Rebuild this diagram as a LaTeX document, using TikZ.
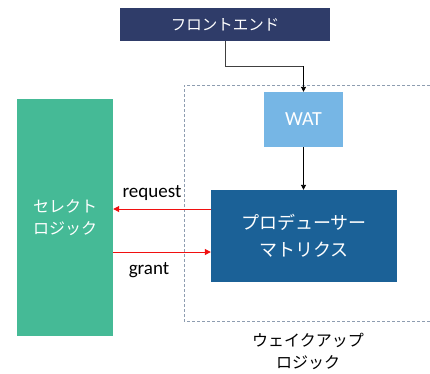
\documentclass[tikz,border=0pt]{standalone}
\usepackage{fontspec}
\setmainfont{Carlito}
\newfontfamily\jp{Noto Sans CJK JP}
\usetikzlibrary{arrows.meta}
\definecolor{navy}{HTML}{2F3C69}
\definecolor{watblue}{HTML}{76B6E5}
\definecolor{prodblue}{HTML}{1B6197}
\definecolor{selgreen}{HTML}{45BA96}
\definecolor{frame}{HTML}{8E9DB0}
\definecolor{sigred}{HTML}{F01010}
\tikzset{
  blk/.style={draw=none, inner sep=0pt, align=center, text=white},
  flow/.style={draw=black, line width=0.9pt, -{Triangle[length=5pt,width=5pt]}},
  sig/.style={draw=sigred, line width=1pt, -{Triangle[length=6pt,width=6pt]}},
  lbl/.style={inner sep=0pt, text=black}
}
\begin{document}
\begin{tikzpicture}[x=1pt, y=-1pt]
  \useasboundingbox (0,0) rectangle (430,373);
  % wake-up logic frame
  \draw[frame, dash pattern=on 3pt off 2pt, line width=1pt] (430,85) -- (184,85) -- (184,321) -- (430,321);
  % blocks
  \node[blk, fill=navy, minimum width=210pt, minimum height=33pt, font=\jp\fontsize{15.5}{18}\selectfont] (fe) at (225,24.5) {フロントエンド};
  \node[blk, fill=watblue, minimum width=79pt, minimum height=55pt, font=\fontsize{20}{24}\selectfont] (wat) at (303.5,119.5) {WAT};
  \node[blk, fill=prodblue, minimum width=186pt, minimum height=92pt, font=\jp\fontsize{18}{27}\selectfont] (pm) at (304,236) {プロデューサー\\マトリクス};
  \node[blk, fill=selgreen, minimum width=96pt, minimum height=237pt, font=\jp\fontsize{16}{22}\selectfont] (sel) at (65,217.5) {セレクト\\ロジック};
  % connectors
  \coordinate (bend) at (fe.south |- 0,66);
  \draw[line width=0.9pt, draw=black!75] (fe.south) -- (bend) -- (bend -| wat.north);
  \draw[flow] (bend -| wat.north) -- (wat.north);
  \draw[flow] (wat.south) -- (pm.north -| wat.south);
  \draw[sig] (pm.west |- 0,209) -- (sel.east |- 0,209);
  \draw[sig] (sel.east |- 0,252) -- (pm.west |- 0,252);
  % labels
  \node[lbl, font=\fontsize{19}{22}\selectfont] (req) at (152,193) {request};
  \node[lbl, font=\fontsize{19}{22}\selectfont] (gr) at (149,270) {grant};
  \node[lbl, align=center, font=\jp\fontsize{16}{22}\selectfont] (wl) at (308,351) {ウェイクアップ\\ロジック};
\end{tikzpicture}
\end{document}
